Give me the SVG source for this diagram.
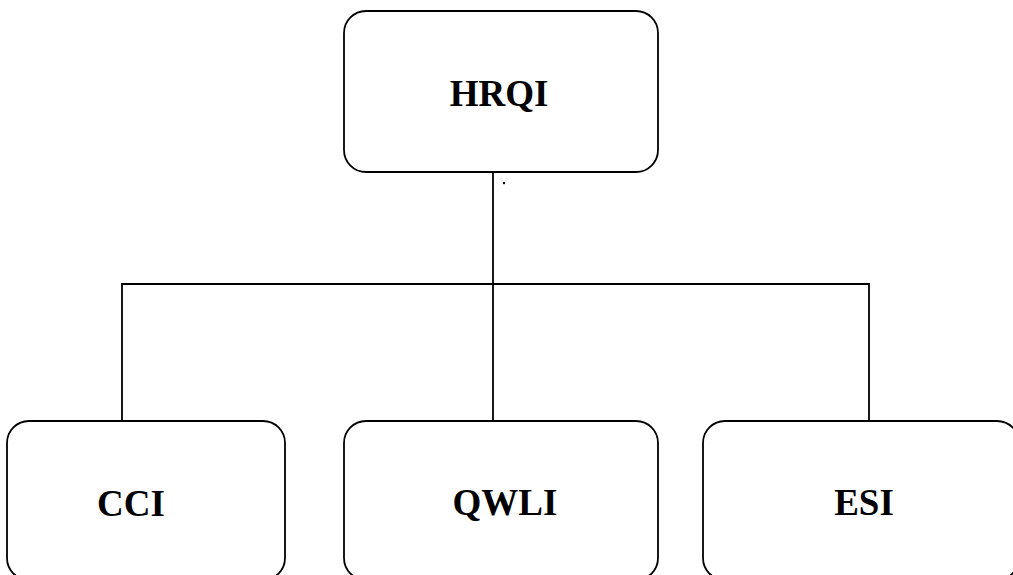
<svg xmlns="http://www.w3.org/2000/svg" width="1013" height="575" viewBox="0 0 1013 575">
  <style>
    .box { fill: #ffffff; stroke: #000000; stroke-width: 1.8; }
    .wire { fill: none; stroke: #000000; stroke-width: 1.8; }
    .label { font-family: "Liberation Serif", "Times New Roman", serif; font-weight: bold; font-size: 37px; fill: #000000; text-anchor: middle; }
  </style>
  <rect width="1013" height="575" fill="#ffffff"/>

  <!-- connectors -->
  <g id="connectors">
    <path class="wire" d="M493,172 V421"/>
    <path class="wire" d="M122,421 V284 H869 V421"/>
    <circle cx="504" cy="183" r="1.2" fill="#000000"/>
  </g>

  <g id="node-hrqi">
    <rect class="box" x="344" y="11" width="314" height="161" rx="22" ry="22"/>
    <text class="label" x="499" y="106">HRQI</text>
  </g>

  <!-- the lower row runs past the bottom edge of the canvas -->
  <g id="node-cci">
    <rect class="box" x="7" y="421" width="278" height="159" rx="22" ry="22"/>
    <text class="label" x="131" y="516">CCI</text>
  </g>

  <g id="node-qwli">
    <rect class="box" x="344" y="421" width="314" height="159" rx="22" ry="22"/>
    <text class="label" x="505" y="515">QWLI</text>
  </g>

  <g id="node-esi">
    <rect class="box" x="703" y="421" width="316" height="159" rx="22" ry="22"/>
    <text class="label" x="864" y="515">ESI</text>
  </g>
</svg>
